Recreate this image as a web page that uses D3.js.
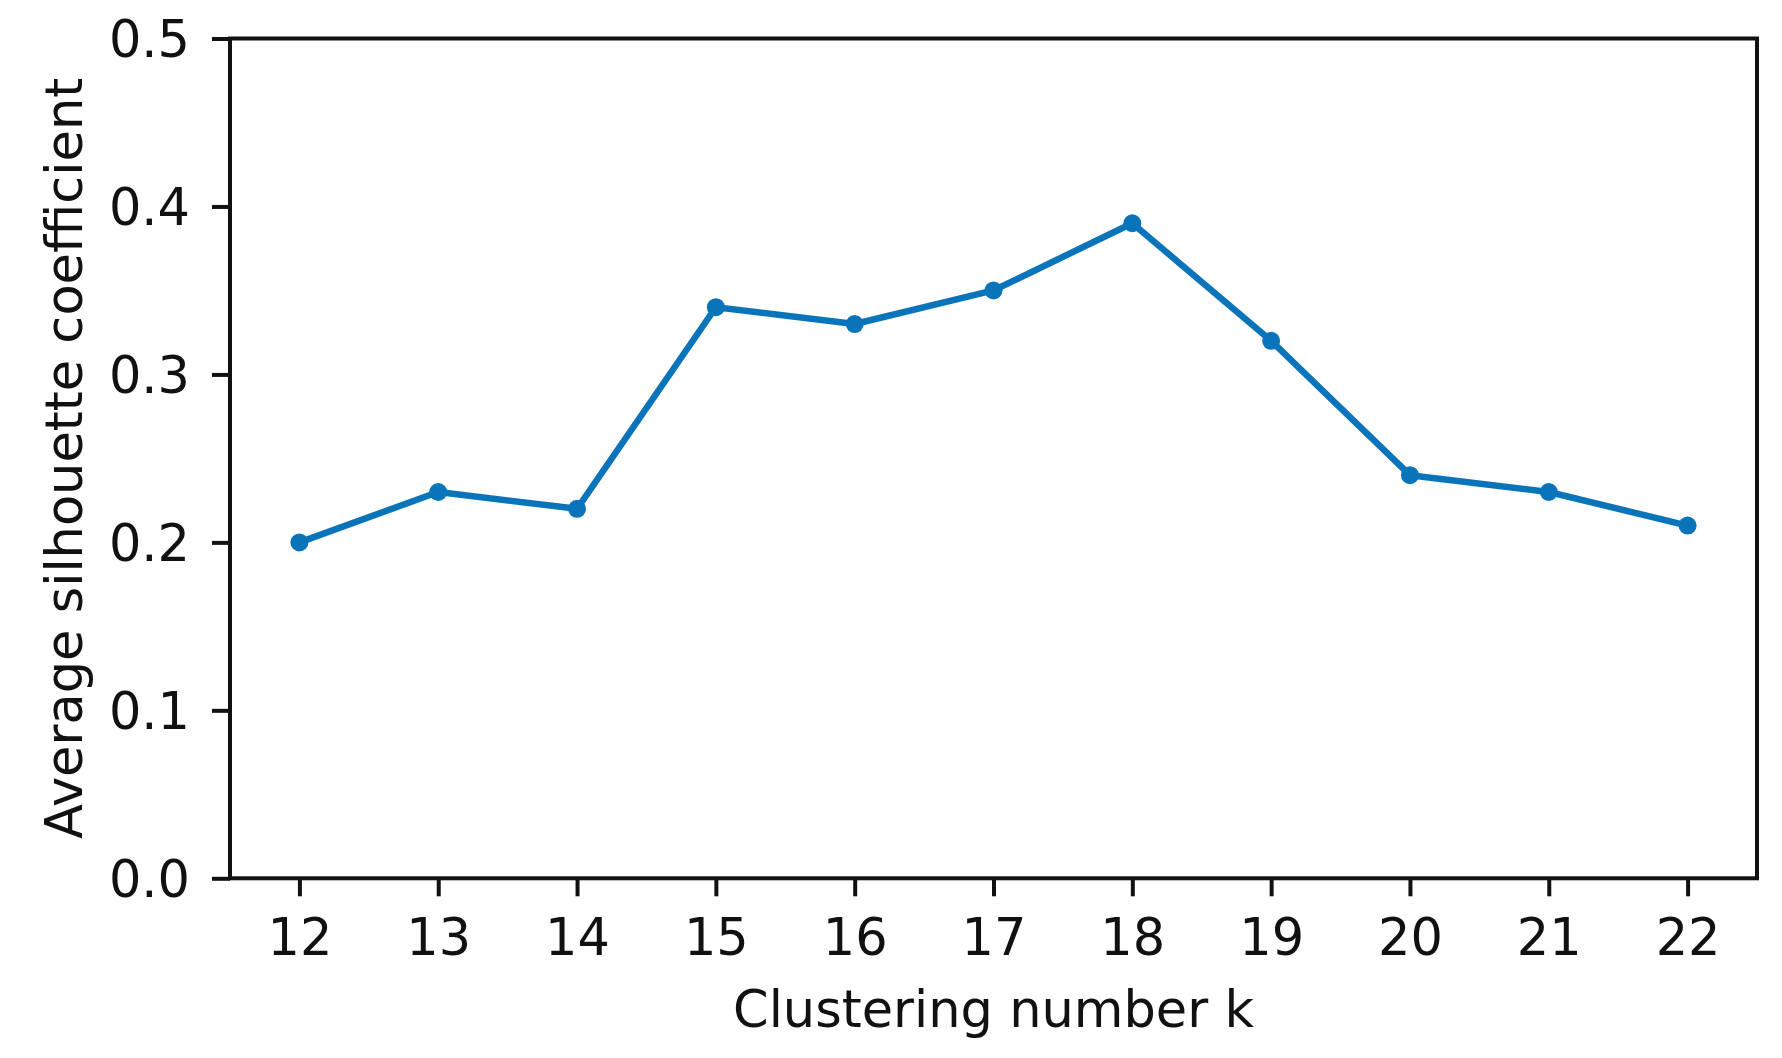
<!DOCTYPE html>
<html>
<head>
<meta charset="utf-8">
<script src="https://cdn.jsdelivr.net/npm/d3@7"></script>
<style>
  html, body { margin: 0; padding: 0; background: #fff; }
  svg { display: block; }
  text { font-family: "DejaVu Sans", sans-serif; fill: #111; }
</style>
</head>
<body>
<svg id="chart" width="1782" height="1058"></svg>
<script>
const categories = [12, 13, 14, 15, 16, 17, 18, 19, 20, 21, 22];
const silhouette = [0.20, 0.23, 0.22, 0.34, 0.33, 0.35, 0.39, 0.32, 0.24, 0.23, 0.21];
const yTicks = [0.0, 0.1, 0.2, 0.3, 0.4, 0.5];
const xLabel = "Clustering number k";
const yLabel = "Average silhouette coefficient";

const W = 1782, H = 1058;
const m = { left: 230, right: W - 1757, top: 38.5, bottom: H - 878.3 };
const svg = d3.select("#chart");
const iw = W - m.left - m.right, ih = H - m.top - m.bottom;
const g = svg.append("g").attr("transform", `translate(${m.left},${m.top})`);

const x = d3.scaleLinear().domain([11.5, 22.5]).range([0, iw]);
const y = d3.scaleLinear().domain([0, 0.5]).range([ih, 0]);

const fs = 51;
const xAxis = g.append("g").attr("transform", `translate(0,${ih})`)
  .call(d3.axisBottom(x).tickValues(categories).tickFormat(d3.format("d")).tickSize(18).tickPadding(22));
const yAxis = g.append("g")
  .call(d3.axisLeft(y).tickValues(yTicks).tickFormat(d3.format(".1f")).tickSize(18).tickPadding(22));

[xAxis, yAxis].forEach(a => {
  a.select(".domain").remove();
  a.selectAll(".tick line").attr("stroke", "#111").attr("stroke-width", 4);
  a.selectAll(".tick text").attr("font-size", fs).attr("fill", "#111")
    .style("font-family", "'DejaVu Sans', sans-serif");
});
yAxis.selectAll(".tick text").attr("dy", "0.36em");
xAxis.selectAll(".tick text").attr("dy", "0.72em");

// frame
g.append("rect").attr("x", 0).attr("y", 0).attr("width", iw).attr("height", ih)
  .attr("fill", "none").attr("stroke", "#111").attr("stroke-width", 4);

const color = "#0a74ba";
const line = d3.line().x((d, i) => x(categories[i])).y(d => y(d));
g.append("path").datum(silhouette).attr("d", line)
  .attr("fill", "none").attr("stroke", color).attr("stroke-width", 6.5)
  .attr("stroke-linejoin", "round");
g.selectAll("circle.pt").data(silhouette).enter().append("circle")
  .attr("class", "pt")
  .attr("cx", (d, i) => x(categories[i])).attr("cy", d => y(d))
  .attr("r", 9).attr("fill", color);

svg.append("text").attr("x", m.left + iw / 2).attr("y", 1027)
  .attr("text-anchor", "middle").attr("font-size", fs).text(xLabel);
svg.append("text")
  .attr("transform", `translate(82,${m.top + ih / 2}) rotate(-90)`)
  .attr("text-anchor", "middle").attr("font-size", fs).text(yLabel);
</script>
</body>
</html>
